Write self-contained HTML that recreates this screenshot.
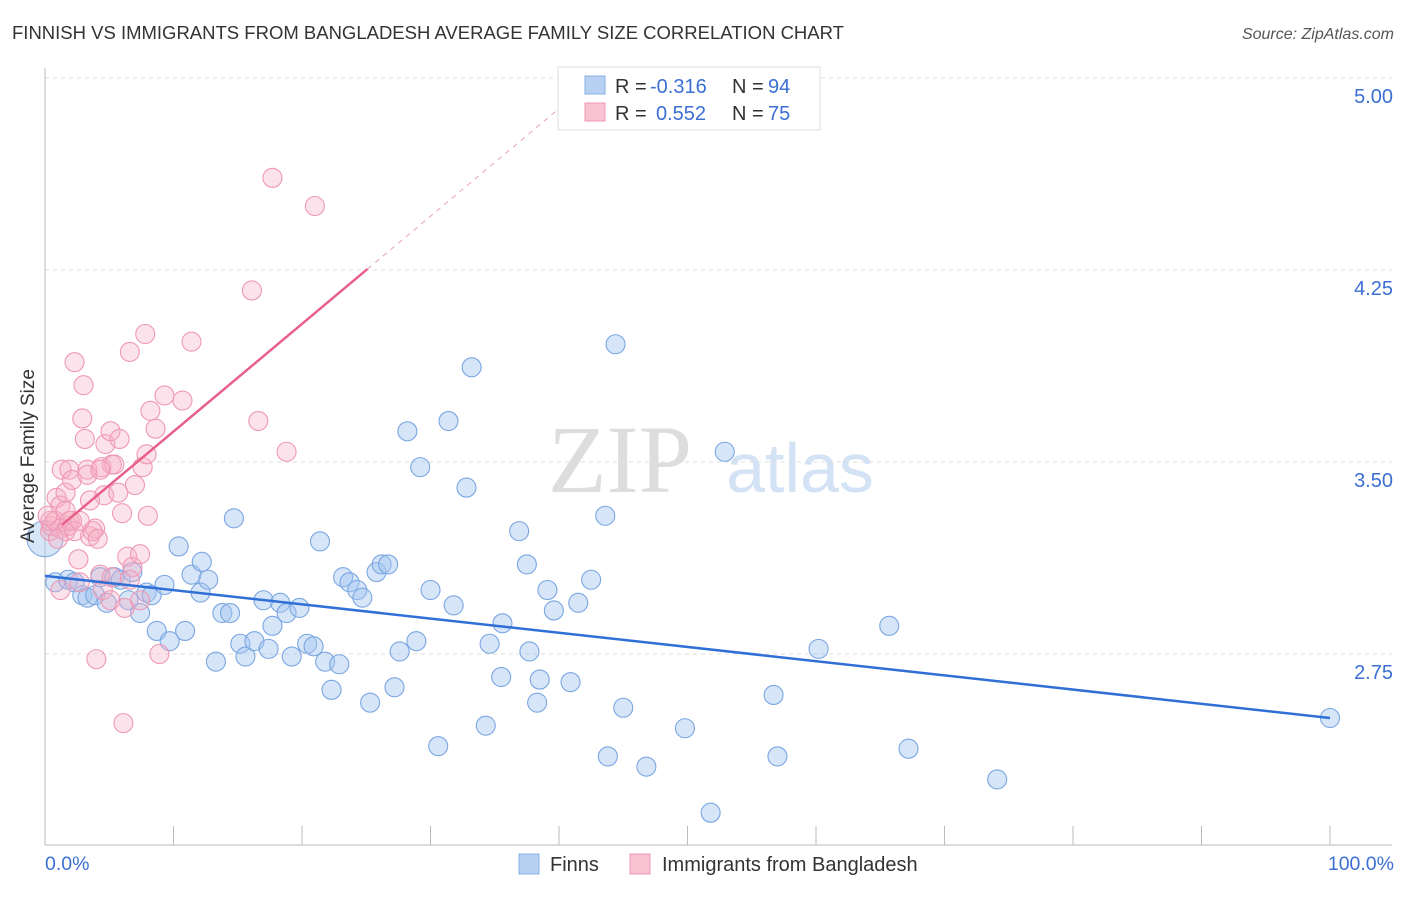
<!DOCTYPE html>
<html><head><meta charset="utf-8"><style>
body{margin:0;background:#fff;font-family:"Liberation Sans",sans-serif}
</style></head><body>
<svg width="1406" height="892" xmlns="http://www.w3.org/2000/svg">
<text x="12" y="39" font-size="18.5" fill="#333">FINNISH VS IMMIGRANTS FROM BANGLADESH AVERAGE FAMILY SIZE CORRELATION CHART</text>
<text x="1394" y="39" font-size="16" fill="#555" font-style="italic" text-anchor="end">Source: ZipAtlas.com</text>
<text x="620" y="492" font-size="96" fill="#ddd" font-family="Liberation Serif,serif" text-anchor="middle">ZIP</text>
<text x="800" y="492" font-size="70" fill="#d4e2f5" text-anchor="middle">atlas</text>
<g id="grid"></g>
<g id="axes"></g>
<g id="pts"></g>
<g id="lines"></g>
<text transform="translate(34,456) rotate(-90)" font-size="19" fill="#333" text-anchor="middle">Average Family Size</text>
<text x="45" y="870" font-size="19.5" fill="#3b6fd4">0.0%</text>
<text x="1394" y="870" font-size="19.5" fill="#3b6fd4" text-anchor="end">100.0%</text>
<g>
<rect x="558" y="67" width="262" height="63" fill="#fff" stroke="#ddd"/>
<rect x="585" y="76" width="20" height="18" fill="#b8d0f2" stroke="#8ab0e6"/>
<rect x="585" y="103" width="20" height="18" fill="#f9c3d3" stroke="#ee9ab5"/>
<text x="615" y="93" font-size="20" fill="#333">R =</text>
<text x="650" y="93" font-size="20" fill="#3b6fd4">-0.316</text>
<text x="732" y="93" font-size="20" fill="#333">N =</text>
<text x="768" y="93" font-size="20" fill="#3b6fd4">94</text>
<text x="615" y="120" font-size="20" fill="#333">R =</text>
<text x="656" y="120" font-size="20" fill="#3b6fd4">0.552</text>
<text x="732" y="120" font-size="20" fill="#333">N =</text>
<text x="768" y="120" font-size="20" fill="#3b6fd4">75</text>
</g>
<g>
<rect x="519" y="854" width="20" height="20" fill="#b8d0f2" stroke="#8ab0e6"/>
<text x="550" y="871" font-size="20" fill="#333">Finns</text>
<rect x="630" y="854" width="20" height="20" fill="#f9c3d3" stroke="#ee9ab5"/>
<text x="662" y="871" font-size="20" fill="#333">Immigrants from Bangladesh</text>
</g>
</svg>
<script>
const yTicks=[5.00,4.25,3.50,2.75];
const yTickLabels=["5.00","4.25","3.50","2.75"];
const finnsX=[0.8,1.8,2.3,2.9,3.3,3.9,4.3,4.8,5.4,5.9,6.5,6.8,7.4,7.9,8.3,8.7,9.3,9.7,10.4,10.9,11.4,12.1,12.2,12.7,13.3,13.8,14.4,14.7,15.2,15.6,16.3,17.0,17.4,17.7,18.3,18.8,19.2,19.8,20.4,20.9,21.4,21.8,22.3,22.9,23.2,23.7,24.3,24.7,25.3,25.8,26.2,26.7,27.2,27.6,28.2,28.9,29.2,30.0,30.6,31.4,31.8,32.8,33.2,34.3,34.6,35.5,35.6,36.9,37.5,37.7,38.3,38.5,39.1,39.6,40.9,41.5,42.5,43.6,43.8,44.4,45.0,46.8,49.8,51.8,52.9,56.7,57.0,60.2,65.7,67.2,74.1,100];
const finnsY=[3.03,3.04,3.03,2.98,2.97,2.98,3.05,2.95,3.05,3.04,2.96,3.07,2.91,2.99,2.98,2.84,3.02,2.80,3.17,2.84,3.06,2.99,3.11,3.04,2.72,2.91,2.91,3.28,2.79,2.74,2.80,2.96,2.77,2.86,2.95,2.91,2.74,2.93,2.79,2.78,3.19,2.72,2.61,2.71,3.05,3.03,3.00,2.97,2.56,3.07,3.10,3.10,2.62,2.76,3.62,2.80,3.48,3.00,2.39,3.66,2.94,3.40,3.87,2.47,2.79,2.66,2.87,3.23,3.10,2.76,2.56,2.65,3.00,2.92,2.64,2.95,3.04,3.29,2.35,3.96,2.54,2.31,2.46,2.13,3.54,2.59,2.35,2.77,2.86,2.38,2.26,2.50];
const bangX=[0.4,0.5,0.9,1.2,1.6,1.3,1.9,2.1,2.3,2.6,2.7,2.9,3.0,3.1,3.3,3.5,3.9,4.0,4.3,4.4,4.6,4.7,5.1,5.2,5.4,5.7,5.8,6.0,6.1,6.4,6.6,6.8,7.0,7.4,7.6,7.8,7.9,8.0,8.2,8.9,9.3,10.7,11.4,16.1,16.6,17.7,18.8,21.0,0.4,0.8,1.2,1.6,1.8,2.1,0.2,3.7,4.1,4.5,5.1,1.2,6.2,7.4,3.3,1.9,4.3,6.6,2.3,1.0,2.7,1.6,3.5,5.2,8.6];
const bangY=[3.23,3.25,3.36,3.33,3.38,3.47,3.47,3.43,3.89,3.12,3.03,3.67,3.80,3.59,3.47,3.21,3.24,2.73,3.06,3.48,3.37,3.57,3.62,3.49,3.49,3.38,3.59,3.30,2.48,3.13,3.93,3.09,3.41,3.14,3.48,4.00,3.53,3.29,3.70,2.75,3.76,3.74,3.97,4.17,3.66,4.61,3.54,4.50,3.27,3.27,3.24,3.23,3.25,3.27,3.29,3.23,3.20,3.00,2.96,3.00,2.93,2.96,3.45,3.27,3.47,3.04,3.23,3.20,3.27,3.31,3.35,3.05,3.63];
const finnsTrend=[3.055,2.50];
const bangTrend=[1.32,3.254,25.1,4.254];
const NS="http://www.w3.org/2000/svg";
const X=v=>45+v*12.85, Y=v=>78+(5-v)*256;
function mk(tag,attrs,parent){const e=document.createElementNS(NS,tag);for(const k in attrs)e.setAttribute(k,attrs[k]);document.getElementById(parent).appendChild(e);return e;}
yTicks.forEach((t,i)=>{
  const g=mk('line',{x1:45,x2:1392,y1:Y(t),y2:Y(t),stroke:'#ddd','stroke-dasharray':'4,4'},'grid');
  
  
  const l=mk('text',{x:1393,y:Y(t)+25,'font-size':20,fill:'#3b6fd4','text-anchor':'end'},'grid');
  l.textContent=yTickLabels[i];
  
  
});
const ax=mk('line',{x1:45,x2:45,y1:68,y2:845,stroke:'#bbb'},'axes');


const bx=mk('line',{x1:45,x2:1392,y1:845,y2:845,stroke:'#bbb'},'axes');


for(let i=0;i<=10;i++){const t=mk('line',{x1:X(i*10),x2:X(i*10),y1:826,y2:845,stroke:'#bbb'},'axes');
  
  }
finnsX.forEach((x,i)=>{const c=mk('circle',{cx:X(x),cy:Y(finnsY[i]),r:9.5,fill:'rgba(165,198,240,0.45)',stroke:'#7aa6e2','stroke-width':1.1},'pts');
  
  });
const big=mk('circle',{cx:X(0),cy:Y(3.2),r:18,fill:'rgba(165,198,240,0.45)',stroke:'#7aa6e2'},'pts');


bangX.forEach((x,i)=>{const c=mk('circle',{cx:X(x),cy:Y(bangY[i]),r:9.5,fill:'rgba(246,175,198,0.35)',stroke:'#ee98b4','stroke-width':1.1},'pts');
  
  });
const fl=mk('line',{x1:X(0),y1:Y(finnsTrend[0]),x2:X(100),y2:Y(finnsTrend[1]),stroke:'#2f6fd6','stroke-width':2.5},'lines');


const slope=(bangTrend[3]-bangTrend[1])/(bangTrend[2]-bangTrend[0]);
const xe=bangTrend[2]+(5-bangTrend[3])/slope;
const dl=mk('line',{x1:X(bangTrend[2]),y1:Y(bangTrend[3]),x2:X(xe),y2:Y(5),stroke:'#e8a0b8','stroke-width':1,'stroke-dasharray':'5,5'},'lines');


const bl=mk('line',{x1:X(bangTrend[0]),y1:Y(bangTrend[1]),x2:X(bangTrend[2]),y2:Y(bangTrend[3]),stroke:'#e8608a','stroke-width':2.5},'lines');


</script>
</body></html>
